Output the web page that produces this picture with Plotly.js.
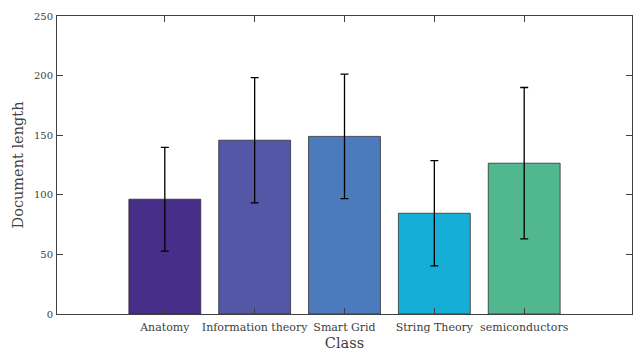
<!DOCTYPE html>
<html>
<head>
<meta charset="utf-8">
<script src="https://cdn.plot.ly/plotly-3.0.1.min.js"></script>
<style>html,body{margin:0;padding:0;background:#fff;}#chart{width:633px;height:351px;}</style>
</head>
<body>
<div id="chart"></div>
<script>
const categories = ["Anatomy", "Information theory", "Smart Grid", "String Theory", "semiconductors"];
const meanLength = [96.3, 145.8, 149.0, 84.5, 126.5];
const stdLength = [43.5, 52.5, 52.2, 44.2, 63.5];
const barColors = ["#472e89", "#5457a5", "#4b7bbd", "#15aed7", "#51b78f"];
const yTicks = [0, 50, 100, 150, 200, 250];

const font = "'DejaVu Serif', 'Liberation Serif', serif";
const idx = categories.map((_, i) => i);

const trace = {
  type: "bar",
  x: idx,
  y: meanLength,
  width: 0.8,
  marker: { color: barColors, line: { color: "rgba(40,40,40,0.75)", width: 1 } },
  error_y: { type: "data", array: stdLength, visible: true, color: "#000", thickness: 1.3, width: 4 },
  hoverinfo: "none"
};

const layout = {
  width: 633, height: 351,
  margin: { l: 57, r: 1, t: 16, b: 37 },
  paper_bgcolor: "#fff", plot_bgcolor: "#fff",
  showlegend: false,
  font: { family: font, color: "#404040", size: 10 },
  xaxis: {
    range: [-1.2, 5.2],
    tickvals: idx, ticktext: categories,
    ticks: "inside", ticklen: 6, tickcolor: "#404040", tickwidth: 1,
    showline: true, linecolor: "#404040", linewidth: 1, mirror: "allticks",
    showgrid: false, zeroline: false,
    ticklabelstandoff: 3,
    tickfont: { family: font, size: 11, color: "#404040" },
    title: { text: "Class", font: { family: font, size: 14.5, color: "#404040" }, standoff: 4 }
  },
  yaxis: {
    range: [0, 250],
    tickvals: yTicks,
    ticks: "inside", ticklen: 6, tickcolor: "#404040", tickwidth: 1,
    showline: true, linecolor: "#404040", linewidth: 1, mirror: "allticks",
    showgrid: false, zeroline: false,
    ticklabelstandoff: 1,
    tickfont: { family: font, size: 10, color: "#404040" },
    title: { text: "Document length", font: { family: font, size: 14.5, color: "#404040" }, standoff: 6 }
  }
};

Plotly.newPlot("chart", [trace], layout, { displayModeBar: false, staticPlot: true });
</script>
</body>
</html>
